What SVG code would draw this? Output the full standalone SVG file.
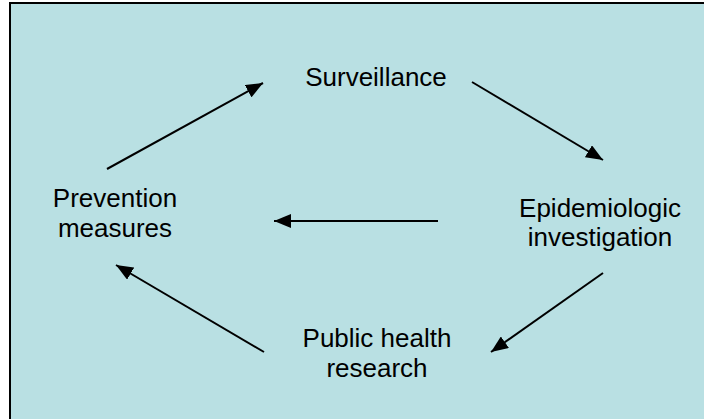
<svg xmlns="http://www.w3.org/2000/svg" width="704" height="419" viewBox="0 0 704 419">
<style>
.t{font-family:"Liberation Sans",Arial,sans-serif;font-size:26px;fill:#000;text-anchor:middle}
.c{stroke:#000;stroke-width:2;fill:none;marker-end:url(#ah)}
</style>
<defs>
<marker id="ah" markerUnits="userSpaceOnUse" markerWidth="18" markerHeight="14" refX="17" refY="7" orient="auto">
<path d="M0,0 L17,7 L0,14 z" fill="#000"/>
</marker>
</defs>
<rect x="10" y="3" width="720" height="440" fill="#B9E0E3" stroke="#000" stroke-width="2"/>
<g id="connectors">
<line class="c" x1="107" y1="169" x2="263" y2="83"/>
<line class="c" x1="472" y1="82" x2="603" y2="160"/>
<line class="c" x1="438" y1="221" x2="274" y2="221"/>
<line class="c" x1="603" y1="273" x2="491" y2="352"/>
<line class="c" x1="264" y1="352" x2="116" y2="265"/>
</g>
<g id="surveillance"><text class="t" x="376" y="86">Surveillance</text></g>
<g id="epidemiologic"><text class="t" x="600" y="217">Epidemiologic</text><text class="t" x="600" y="246">investigation</text></g>
<g id="research"><text class="t" x="377" y="347">Public health</text><text class="t" x="377" y="377">research</text></g>
<g id="prevention"><text class="t" x="115" y="207">Prevention</text><text class="t" x="115" y="237">measures</text></g>
</svg>
